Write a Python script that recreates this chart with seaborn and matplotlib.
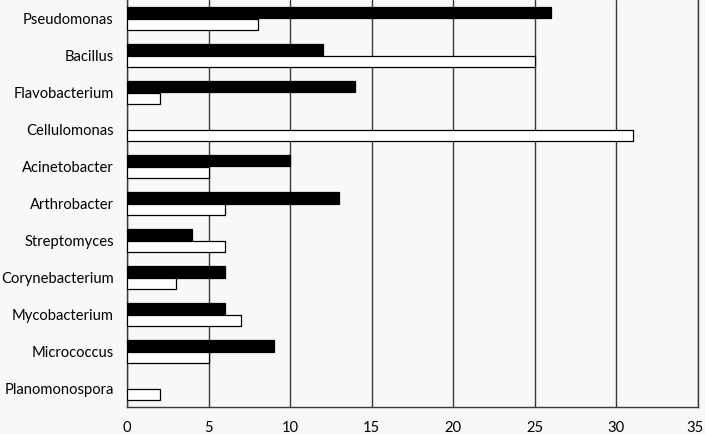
import pandas as pd
import matplotlib.pyplot as plt
import seaborn as sns
from matplotlib.ticker import FixedLocator

# ----------------------------------------------------------------------------
# Data
# ----------------------------------------------------------------------------

genera = [
    "Pseudomonas", "Bacillus", "Flavobacterium", "Cellulomonas",
    "Acinetobacter", "Arthrobacter", "Streptomyces", "Corynebacterium",
    "Mycobacterium", "Micrococcus", "Planomonospora",
]
series_names = ["A", "B"]
counts_a = [26, 12, 14, 0, 10, 13, 4, 6, 6, 9, 0]
counts_b = [8, 25, 2, 31, 5, 6, 6, 3, 7, 5, 2]
x_ticks = [0, 5, 10, 15, 20, 25, 30, 35]

df = pd.DataFrame({
    "genus": genera * 2,
    "series": [series_names[0]] * len(genera) + [series_names[1]] * len(genera),
    "count": counts_a + counts_b,
})

# ----------------------------------------------------------------------------
# Plot
# ----------------------------------------------------------------------------

sns.set_style("white")
plt.rcParams["font.family"] = ["Lato", "DejaVu Sans"]

bg = "#f8f8f8"
line_col = "#3a3a3a"

fig = plt.figure(figsize=(7.05, 4.34), dpi=100, facecolor=bg)
ax = fig.add_axes([127 / 705, 27 / 434, 571 / 705, 407 / 434])
ax.set_facecolor(bg)

sns.barplot(
    data=df, y="genus", x="count", hue="series",
    order=genera, hue_order=series_names,
    palette=["black", "white"], width=0.6,
    edgecolor="black", linewidth=0.9,
    orient="h", legend=False, ax=ax, zorder=3,
)

# zero-length bars would leave a stray edge line at x=0
for patch in ax.patches:
    if patch.get_width() == 0:
        patch.set_visible(False)

ax.set_xlim(x_ticks[0], x_ticks[-1])
ax.set_ylim(len(genera) - 0.5, -0.5)

# last label sits at the figure edge, so it is drawn right-aligned by hand
ax.set_xticks(x_ticks, labels=[str(t) for t in x_ticks[:-1]] + [""])
ax.annotate(
    str(x_ticks[-1]), xy=(x_ticks[-1], 0), xycoords=("data", "axes fraction"),
    xytext=(4, -10), textcoords="offset points",
    ha="right", va="top", fontsize=10.6, color="black",
)

ax.grid(axis="x", color=line_col, linewidth=1.0, zorder=1)
ax.set_axisbelow(True)

ax.set_xlabel("")
ax.set_ylabel("")

# y tick marks sit between categories, labels in the middle
ax.yaxis.set_minor_locator(FixedLocator([i - 0.5 for i in range(len(genera) + 1)]))
ax.tick_params(axis="y", which="major", length=0, pad=9.5, labelsize=10.6, labelcolor="black")
ax.tick_params(axis="y", which="minor", length=4, width=1, color=line_col, direction="out")
ax.tick_params(axis="x", which="major", length=5, width=1, color=line_col,
               direction="out", pad=5, labelsize=10.6, labelcolor="black")

for side in ["left", "bottom", "right"]:
    ax.spines[side].set_visible(True)
    ax.spines[side].set_color(line_col)
    ax.spines[side].set_linewidth(1.0)
ax.spines["top"].set_visible(False)

plt.savefig("out.png", dpi=100, facecolor=bg)
